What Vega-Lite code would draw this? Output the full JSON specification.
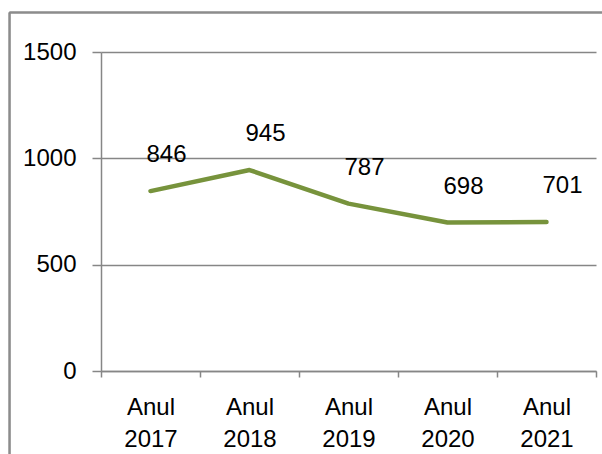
{
  "$schema": "https://vega.github.io/schema/vega-lite/v6.json",
  "autosize": "none",
  "width": 495,
  "height": 319,
  "padding": {"left": 101, "top": 52, "right": 6, "bottom": 83},
  "background": "white",
  "config": {"view": {"stroke": null}, "font": "Liberation Sans"},
  "data": {
    "values": [
      {"an": "Anul 2017", "valoare": 846},
      {"an": "Anul 2018", "valoare": 945},
      {"an": "Anul 2019", "valoare": 787},
      {"an": "Anul 2020", "valoare": 698},
      {"an": "Anul 2021", "valoare": 701}
    ]
  },
  "layer": [
    {
      "layer": [
        {
          "mark": {"type": "line", "color": "#77933C", "strokeWidth": 4.5, "strokeCap": "round", "strokeJoin": "round"},
          "encoding": {
            "x": {
              "field": "an", "type": "nominal", "sort": null,
              "scale": {"type": "band", "paddingInner": 0, "paddingOuter": 0},
              "axis": {
                "title": null, "labelAngle": 0, "grid": false,
                "tickBand": "extent", "tickSize": 6, "tickColor": "#868686", "tickWidth": 1.5,
                "domainColor": "#868686", "domainWidth": 1.5,
                "labelExpr": "split(datum.label, ' ')",
                "labelLineHeight": 32, "labelFontSize": 24, "labelColor": "black",
                "labelPadding": 18, "labelBaseline": "top"
              }
            },
            "y": {
              "field": "valoare", "type": "quantitative",
              "scale": {"domain": [0, 1500], "nice": false},
              "axis": {
                "title": null, "values": [0, 500, 1000, 1500], "format": "d",
                "grid": true, "gridColor": "#868686", "gridWidth": 1.5,
                "tickSize": 9, "tickColor": "#868686", "tickWidth": 1.5,
                "domainColor": "#868686", "domainWidth": 1.5,
                "labelFontSize": 24, "labelColor": "black", "labelPadding": 16
              }
            }
          }
        },
        {
          "mark": {"type": "text", "dx": 16, "dy": -29, "baseline": "alphabetic", "fontSize": 24, "color": "black"},
          "encoding": {
            "x": {"field": "an", "type": "nominal", "sort": null},
            "y": {"field": "valoare", "type": "quantitative"},
            "text": {"field": "valoare", "type": "quantitative"}
          }
        }
      ]
    },
    {
      "mark": {"type": "rule", "clip": false, "color": "#8c8c8c", "strokeWidth": 1.5},
      "encoding": {
        "x": {"datum": -0.1848, "type": "quantitative", "scale": {"domain": [0, 1]}, "axis": null},
        "y": {"datum": 1686, "type": "quantitative"},
        "y2": {"datum": -600}
      }
    },
    {
      "mark": {"type": "rule", "clip": false, "color": "#8c8c8c", "strokeWidth": 1.5},
      "encoding": {
        "x": {"datum": -0.1848, "type": "quantitative", "scale": {"domain": [0, 1]}, "axis": null},
        "x2": {"datum": 1.3},
        "y": {"datum": 1686, "type": "quantitative"}
      }
    }
  ],
  "resolve": {"scale": {"x": "independent"}}
}
